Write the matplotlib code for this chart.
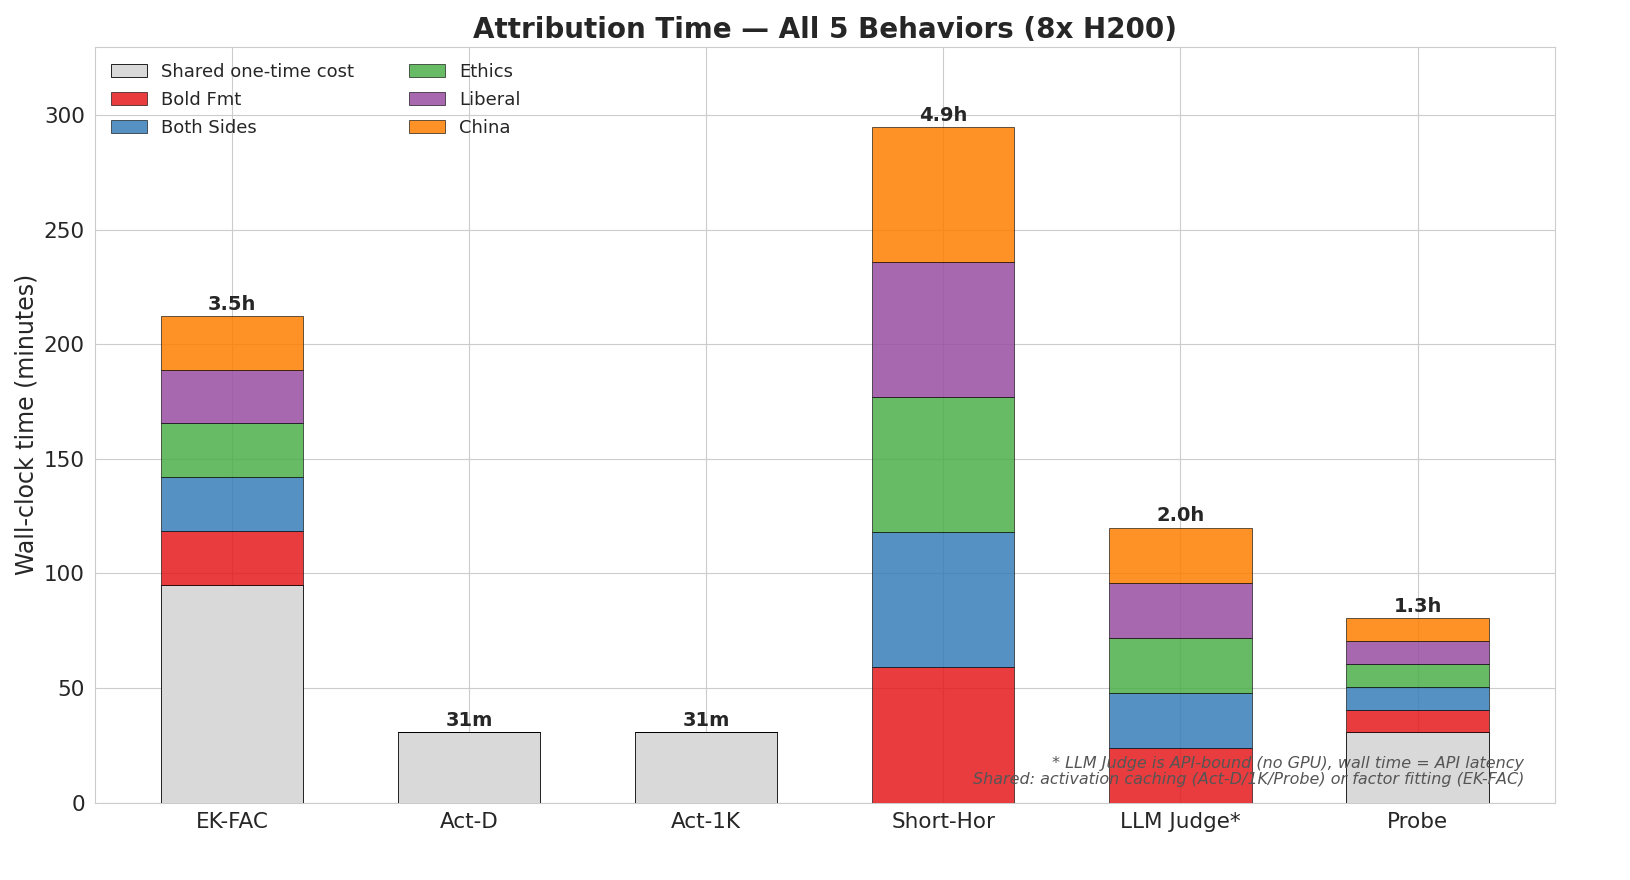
import matplotlib
matplotlib.use("Agg")
import matplotlib.pyplot as plt
import seaborn as sns
import numpy as np

methods = ["EK-FAC", "Act-D", "Act-1K", "Short-Hor", "LLM Judge*", "Probe"]
shared = [95, 30.6, 30.6, 0, 0, 30.6]
behaviors = ["Bold Fmt", "Both Sides", "Ethics", "Liberal", "China"]
per_behavior = {
    "Bold Fmt":   [23.5, 0, 0, 59, 24, 10],
    "Both Sides": [23.5, 0, 0, 59, 24, 10],
    "Ethics":     [23.5, 0, 0, 59, 24, 10],
    "Liberal":    [23.5, 0, 0, 59, 24, 10],
    "China":      [23.5, 0, 0, 59, 24, 10],
}
colors = ["#e41a1c", "#377eb8", "#4daf4a", "#984ea3", "#ff7f00"]

sns.set_style("whitegrid")
plt.rcParams['font.family'] = ['DejaVu Sans']

fig, ax = plt.subplots(figsize=(16.3, 8.8), dpi=100)
x = np.arange(len(methods))
w = 0.6

ax.bar(x, shared, w, color="#d9d9d9", edgecolor="black", linewidth=0.6,
       label="Shared one-time cost", zorder=3)
bottom = np.array(shared, dtype=float)
for beh, col in zip(behaviors, colors):
    vals = np.array(per_behavior[beh], dtype=float)
    ax.bar(x, vals, w, bottom=bottom, color=col, alpha=0.85,
           edgecolor="black", linewidth=0.5, label=beh, zorder=3)
    bottom += vals

for xi, tot in zip(x, bottom):
    lab = f"{tot / 60:.1f}h" if tot >= 60 else f"{tot:.0f}m"
    ax.text(xi, tot + 1, lab, ha="center", va="bottom",
            fontsize=14, fontweight="bold", color="#262626")

ax.set_xticks(x)
ax.set_xticklabels(methods, fontsize=15.5)
ax.tick_params(axis="y", labelsize=15.5)
ax.set_ylim(0, 330)
ax.set_ylabel("Wall-clock time (minutes)", fontsize=17)
ax.set_title("Attribution Time \u2014 All 5 Behaviors (8x H200)",
             fontsize=20, fontweight="bold", color="#262626")
for s in ax.spines.values():
    s.set_color("#cccccc")

ax.legend(ncol=2, loc="upper left", fontsize=13, frameon=False,
          columnspacing=3, labelspacing=0.55)

ax.text(0.979, 0.02,
        "* LLM Judge is API-bound (no GPU), wall time = API latency\n"
        "Shared: activation caching (Act-D/1K/Probe) or factor fitting (EK-FAC)",
        transform=ax.transAxes, ha="right", va="bottom", fontsize=11.5,
        style="italic", color="#555555", zorder=5, linespacing=1.15)

fig.subplots_adjust(left=0.058, right=0.954, top=0.947, bottom=0.088)
fig.savefig("out.png", dpi=100)
